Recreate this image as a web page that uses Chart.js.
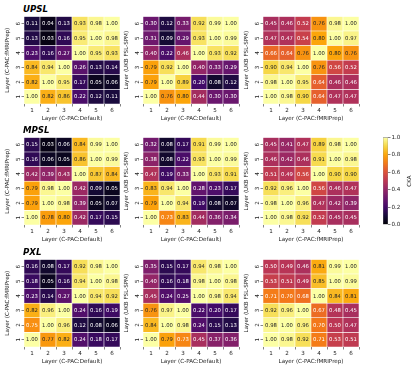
<!DOCTYPE html>
<html>
<head>
<meta charset="utf-8">
<script src="https://cdn.jsdelivr.net/npm/chart.js@4.4.0/dist/chart.umd.min.js"></script>
<style>
  body { margin: 0; background: #fff; width: 415px; height: 372px; overflow: hidden; position: relative; }
  .panel { position: absolute; }
  .model { position: absolute; font: italic bold 8.6px "DejaVu Sans"; color: #000; }
</style>
</head>
<body>

<script>
// =====================================================
// DATOS (filas de arriba abajo: capa 6 ... capa 1)
// =====================================================

const layers = ["1", "2", "3", "4", "5", "6"];
const models = ["UPSL", "MPSL", "PXL"];
const xTitles = ["Layer (C-PAC:Default)", "Layer (C-PAC:Default)", "Layer (C-PAC:fMRIPrep)"];
const yTitles = ["Layer (C-PAC:fMRIPrep)", "Layer (UKB FSL-SPM)", "Layer (UKB FSL-SPM)"];
const colorbarTicks = [0, 0.2, 0.4, 0.6, 0.8, 1.0];

const upslDefaultFmriprep = [
  [0.11, 0.04, 0.13, 0.93, 0.98, 1.00],
  [0.13, 0.03, 0.16, 0.95, 1.00, 0.98],
  [0.23, 0.16, 0.27, 1.00, 0.95, 0.93],
  [0.84, 0.94, 1.00, 0.26, 0.13, 0.14],
  [0.82, 1.00, 0.95, 0.17, 0.05, 0.06],
  [1.00, 0.82, 0.86, 0.22, 0.12, 0.11]
];
const upslDefaultUkb = [
  [0.30, 0.12, 0.33, 0.92, 0.99, 1.00],
  [0.31, 0.09, 0.29, 0.93, 1.00, 0.99],
  [0.40, 0.22, 0.46, 1.00, 0.93, 0.92],
  [0.79, 0.92, 1.00, 0.40, 0.33, 0.29],
  [0.79, 1.00, 0.89, 0.20, 0.08, 0.12],
  [1.00, 0.76, 0.80, 0.44, 0.30, 0.30]
];
const upslFmriprepUkb = [
  [0.45, 0.46, 0.52, 0.76, 0.98, 1.00],
  [0.47, 0.47, 0.54, 0.80, 1.00, 0.97],
  [0.66, 0.64, 0.76, 1.00, 0.80, 0.76],
  [0.90, 0.94, 1.00, 0.76, 0.56, 0.52],
  [0.98, 1.00, 0.95, 0.64, 0.46, 0.46],
  [1.00, 0.98, 0.90, 0.64, 0.47, 0.47]
];

const mpslDefaultFmriprep = [
  [0.15, 0.03, 0.06, 0.84, 0.99, 1.00],
  [0.16, 0.06, 0.05, 0.86, 1.00, 0.99],
  [0.42, 0.39, 0.43, 1.00, 0.87, 0.84],
  [0.79, 0.98, 1.00, 0.42, 0.09, 0.05],
  [0.79, 1.00, 0.98, 0.39, 0.05, 0.07],
  [1.00, 0.78, 0.80, 0.42, 0.17, 0.15]
];
const mpslDefaultUkb = [
  [0.32, 0.08, 0.17, 0.91, 0.99, 1.00],
  [0.38, 0.08, 0.22, 0.93, 1.00, 0.99],
  [0.47, 0.19, 0.33, 1.00, 0.93, 0.91],
  [0.83, 0.94, 1.00, 0.28, 0.23, 0.17],
  [0.79, 1.00, 0.94, 0.19, 0.08, 0.07],
  [1.00, 0.73, 0.83, 0.44, 0.36, 0.34]
];
const mpslFmriprepUkb = [
  [0.45, 0.41, 0.47, 0.89, 0.98, 1.00],
  [0.46, 0.42, 0.46, 0.91, 1.00, 0.98],
  [0.51, 0.49, 0.56, 1.00, 0.90, 0.90],
  [0.92, 0.96, 1.00, 0.56, 0.46, 0.47],
  [0.98, 1.00, 0.96, 0.47, 0.42, 0.39],
  [1.00, 0.98, 0.92, 0.52, 0.45, 0.45]
];

const pxlDefaultFmriprep = [
  [0.16, 0.08, 0.17, 0.92, 0.98, 1.00],
  [0.18, 0.05, 0.16, 0.94, 1.00, 0.98],
  [0.23, 0.14, 0.27, 1.00, 0.94, 0.92],
  [0.82, 0.96, 1.00, 0.24, 0.16, 0.19],
  [0.75, 1.00, 0.96, 0.12, 0.08, 0.06],
  [1.00, 0.77, 0.82, 0.24, 0.18, 0.17]
];
const pxlDefaultUkb = [
  [0.35, 0.15, 0.17, 0.94, 0.98, 1.00],
  [0.40, 0.16, 0.18, 0.98, 1.00, 0.98],
  [0.45, 0.24, 0.25, 1.00, 0.98, 0.94],
  [0.76, 0.97, 1.00, 0.22, 0.20, 0.17],
  [0.84, 1.00, 0.98, 0.24, 0.15, 0.13],
  [1.00, 0.79, 0.73, 0.45, 0.37, 0.36]
];
const pxlFmriprepUkb = [
  [0.50, 0.49, 0.46, 0.81, 0.99, 1.00],
  [0.53, 0.51, 0.49, 0.85, 1.00, 0.99],
  [0.71, 0.70, 0.68, 1.00, 0.84, 0.81],
  [0.92, 0.96, 1.00, 0.67, 0.48, 0.45],
  [0.98, 1.00, 0.96, 0.70, 0.50, 0.47],
  [1.00, 0.98, 0.92, 0.71, 0.53, 0.51]
];

const matrices = [
  [upslDefaultFmriprep, upslDefaultUkb, upslFmriprepUkb],
  [mpslDefaultFmriprep, mpslDefaultUkb, mpslFmriprepUkb],
  [pxlDefaultFmriprep, pxlDefaultUkb, pxlFmriprepUkb]
];

// =====================================================
// COLORMAP (inferno)
// =====================================================

const INFERNO = [
  [0, 0, 4], [22, 11, 57], [66, 10, 104], [106, 23, 110], [147, 38, 103],
  [188, 55, 84], [221, 81, 58], [243, 120, 25], [252, 165, 10], [246, 215, 70], [252, 255, 164]
];

function inferno(v) {
  const t = Math.max(0, Math.min(1, v)) * (INFERNO.length - 1);
  const i = Math.min(Math.floor(t), INFERNO.length - 2);
  const f = t - i;
  return INFERNO[i].map((c, k) => Math.round(c + (INFERNO[i + 1][k] - c) * f));
}

function rgb(c) {
  return `rgb(${c[0]},${c[1]},${c[2]})`;
}

// texto oscuro sobre celdas claras (como seaborn)
function textColor(v) {
  const lin = inferno(v).map(c => {
    c = c / 255;
    return c <= 0.03928 ? c / 12.92 : Math.pow((c + 0.055) / 1.055, 2.4);
  });
  const lum = 0.2126 * lin[0] + 0.7152 * lin[1] + 0.0722 * lin[2];
  return lum > 0.408 ? "#262626" : "#ffffff";
}

// =====================================================
// PLUGIN: VALORES EN CELDAS
// =====================================================

const cellText = {
  id: "cellText",
  afterDatasetsDraw(chart) {
    const ctx = chart.ctx;
    ctx.save();
    ctx.font = '5.3px "DejaVu Sans"';
    ctx.textAlign = "center";
    ctx.textBaseline = "middle";
    chart.data.datasets.forEach((ds, i) => {
      chart.getDatasetMeta(i).data.forEach((bar, j) => {
        const v = ds.cka[j];
        ctx.fillStyle = textColor(v);
        ctx.fillText(v.toFixed(2), bar.x, (bar.y + bar.base) / 2 + 0.3);
      });
    });
    ctx.restore();
  }
};

// =====================================================
// HEATMAPS
// =====================================================

const colLeft = [24, 143, 263];
const rowTop = [16, 137, 259];
const GW = 96, GH = 88, YW = 24, XH = 22, PAD = 4;
const FONT = { family: "DejaVu Sans", size: 5.6 };

function makePanel(r, c) {
  const matrix = matrices[r][c];

  const div = document.createElement("div");
  div.className = "panel";
  div.style.left = (colLeft[c] - YW) + "px";
  div.style.top = (rowTop[r] - PAD) + "px";
  const canvas = document.createElement("canvas");
  canvas.width = GW + YW + PAD;
  canvas.height = GH + XH + PAD;
  div.appendChild(canvas);
  document.body.appendChild(div);

  // un dataset por capa del eje y (capa 1 abajo)
  const datasets = layers.map((l, li) => {
    const row = matrix[layers.length - 1 - li];
    return {
      data: row.map(() => [li, li + 1]),
      cka: row,
      backgroundColor: row.map(v => rgb(inferno(v))),
      borderColor: "#ffffff",
      borderWidth: 0.6,
      borderSkipped: false,
      barPercentage: 1,
      categoryPercentage: 1,
      grouped: false
    };
  });

  new Chart(canvas, {
    type: "bar",
    data: { labels: layers, datasets: datasets },
    options: {
      responsive: false,
      animation: false,
      devicePixelRatio: 1,
      layout: { padding: { top: PAD, right: PAD, left: 0, bottom: 0 } },
      plugins: { legend: { display: false }, tooltip: { enabled: false } },
      scales: {
        x: {
          type: "category",
          afterFit: s => { s.height = XH; },
          grid: { drawOnChartArea: false, tickLength: 2.5, color: "#333", lineWidth: 0.6 },
          border: { display: false },
          ticks: { font: FONT, color: "#222", padding: 1, minRotation: 0, maxRotation: 0 },
          title: { display: true, text: xTitles[c], font: FONT, color: "#222", padding: { top: 0, bottom: 4 } }
        },
        y: {
          type: "linear",
          min: 0,
          max: layers.length,
          afterFit: s => { s.width = YW; },
          afterBuildTicks: s => { s.ticks = layers.map((l, i) => ({ value: i + 0.5 })); },
          grid: { drawOnChartArea: false, tickLength: 2.5, color: "#333", lineWidth: 0.6 },
          border: { display: false },
          ticks: {
            font: FONT, color: "#222", padding: 1, minRotation: 90, maxRotation: 90, crossAlign: "center",
            callback: v => layers[Math.floor(v)]
          },
          title: { display: true, text: yTitles[c], font: FONT, color: "#222", padding: { top: 4, bottom: 0 } }
        }
      }
    },
    plugins: [cellText]
  });
}

models.forEach((m, r) => {
  const t = document.createElement("div");
  t.className = "model";
  t.textContent = m;
  t.style.left = (colLeft[0] - 1) + "px";
  t.style.top = (rowTop[r] - 12) + "px";
  document.body.appendChild(t);
  for (let c = 0; c < 3; c++) makePanel(r, c);
});

// =====================================================
// BARRA DE COLOR
// =====================================================

const cbLabel = {
  id: "cbLabel",
  afterDraw(chart) {
    const a = chart.chartArea;
    const ctx = chart.ctx;
    ctx.save();
    ctx.translate(a.right + 22, (a.top + a.bottom) / 2);
    ctx.rotate(-Math.PI / 2);
    ctx.font = '5.6px "DejaVu Sans"';
    ctx.fillStyle = "#222";
    ctx.textAlign = "center";
    ctx.textBaseline = "middle";
    ctx.fillText("CKA", 0, 0);
    ctx.restore();
  }
};

(function () {
  const div = document.createElement("div");
  div.className = "panel";
  div.style.left = "375px";
  div.style.top = (rowTop[1] - PAD) + "px";
  const canvas = document.createElement("canvas");
  canvas.width = 40;
  canvas.height = GH + 2 * PAD;
  div.appendChild(canvas);
  document.body.appendChild(div);

  new Chart(canvas, {
    type: "bar",
    data: {
      labels: ["CKA"],
      datasets: [{
        data: [[colorbarTicks[0], colorbarTicks[colorbarTicks.length - 1]]],
        backgroundColor: c => {
          const a = c.chart.chartArea;
          if (!a) return "#000";
          const g = c.chart.ctx.createLinearGradient(0, a.bottom, 0, a.top);
          INFERNO.forEach((col, i) => g.addColorStop(i / (INFERNO.length - 1), rgb(col)));
          return g;
        },
        borderColor: "#888",
        borderWidth: 0.6,
        borderSkipped: false,
        barPercentage: 1,
        categoryPercentage: 1
      }]
    },
    options: {
      responsive: false,
      animation: false,
      devicePixelRatio: 1,
      layout: { padding: { top: PAD, bottom: PAD, left: 8, right: 0 } },
      plugins: { legend: { display: false }, tooltip: { enabled: false } },
      scales: {
        x: { display: false },
        y: {
          position: "right",
          min: 0,
          max: 1,
          afterFit: s => { s.width = 27; },
          afterBuildTicks: s => { s.ticks = colorbarTicks.map(v => ({ value: v })); },
          grid: { drawOnChartArea: false, tickLength: 2.5, color: "#333", lineWidth: 0.6 },
          border: { display: false },
          ticks: { font: FONT, color: "#222", padding: 1, callback: v => v.toFixed(1) }
        }
      }
    },
    plugins: [cbLabel]
  });
})();
</script>
</body>
</html>
